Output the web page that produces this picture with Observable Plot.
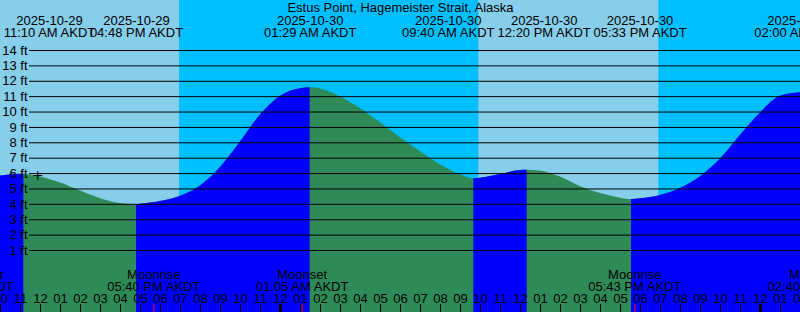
<!DOCTYPE html>
<html><head><meta charset="utf-8">
<script src="https://cdn.jsdelivr.net/npm/d3@7"></script>
<script src="https://cdn.jsdelivr.net/npm/@observablehq/plot@0.6"></script>
<style>
html,body{margin:0;padding:0;background:#fff;}
#chart svg{display:block;}
</style></head><body><div id="chart"></div>
<script>
const title = "Estus Point, Hagemeister Strait, Alaska";

// Hourly tide readings (ft)
const sampleTimes = [
"2025-10-29 10:00","2025-10-29 11:00","2025-10-29 12:00","2025-10-29 13:00","2025-10-29 14:00","2025-10-29 15:00","2025-10-29 16:00","2025-10-29 17:00","2025-10-29 18:00","2025-10-29 19:00","2025-10-29 20:00","2025-10-29 21:00","2025-10-29 22:00","2025-10-29 23:00",
"2025-10-30 00:00","2025-10-30 01:00","2025-10-30 02:00","2025-10-30 03:00","2025-10-30 04:00","2025-10-30 05:00","2025-10-30 06:00","2025-10-30 07:00","2025-10-30 08:00","2025-10-30 09:00","2025-10-30 10:00","2025-10-30 11:00",
"2025-10-30 12:00","2025-10-30 13:00","2025-10-30 14:00","2025-10-30 15:00","2025-10-30 16:00","2025-10-30 17:00","2025-10-30 18:00","2025-10-30 19:00","2025-10-30 20:00","2025-10-30 21:00","2025-10-30 22:00","2025-10-30 23:00",
"2025-10-31 00:00","2025-10-31 01:00"];
const sampleHeights = [
5.84,5.96,5.77,5.38,4.86,4.37,4.06,4.01,4.18,4.53,5.20,6.40,8.05,9.81,
11.03,11.52,11.50,10.98,10.22,9.30,8.33,7.42,6.56,5.93,5.70,5.94,
6.20,6.17,5.77,5.15,4.70,4.40,4.36,4.58,5.03,5.80,6.94,8.49,
9.94,11.02];

// High / low tide events
const tideEventTimes = ["2025-10-29 11:10","2025-10-29 16:48","2025-10-30 01:29","2025-10-30 09:40","2025-10-30 12:20","2025-10-30 17:33","2025-10-31 02:00"];
const tideEventHeights = [5.95,3.99,11.58,5.66,6.22,4.31,11.25];
const tideEventDates = ["2025-10-29","2025-10-29","2025-10-30","2025-10-30","2025-10-30","2025-10-30","2025-10-31"];
const tideEventLabels = ["11:10 AM AKDT","04:48 PM AKDT","01:29 AM AKDT","09:40 AM AKDT","12:20 PM AKDT","05:33 PM AKDT","02:00 AM AKDT"];

// Moon events
const moonEventTimes = ["2025-10-29 08:21","2025-10-29 17:40","2025-10-30 01:05","2025-10-30 17:43","2025-10-31 02:40"];
const moonEventNames = ["First Quarter","Moonrise","Moonset","Moonrise","Moonset"];
const moonEventLabels = ["08:21 AM AKDT","05:40 PM AKDT","01:05 AM AKDT","05:43 PM AKDT","02:40 AM AKDT"];

// Night periods (sunset -> sunrise)
const nightStarts = ["2025-10-29 18:57","2025-10-30 18:55"];
const nightEnds = ["2025-10-30 09:55","2025-10-31 02:00"];

// Current-time mark
const markTime = "2025-10-29 11:52";
const markHeight = 5.87;

// Axis ticks
const heightTicks = [1,2,3,4,5,6,7,8,9,10,11,12,13,14];
const hourTickStart = "2025-10-29 10:00";
const hourTickLabels = ["10","11","12","01","02","03","04","05","06","07","08","09","10","11",
"12","01","02","03","04","05","06","07","08","09","10","11","12","01","02","03","04","05","06","07","08","09","10","11",
"12","01","02"];

const viewStart = "2025-10-29 10:00";
const viewEnd = "2025-10-31 02:00";
const yDomain = [-3.03, 17.25];

// ---- helpers
function ms(s){const [d,t]=s.split(" ");const [Y,M,D]=d.split("-").map(Number);const [h,m]=t.split(":").map(Number);return Date.UTC(Y,M-1,D,h,m);}
const base = ms(viewStart);
const hrs = s => (ms(s)-base)/3600000;
const xDomain = [0, hrs(viewEnd)];
const W = 800, H = 312;
const xs = d3.scaleLinear(xDomain, [0, W]);
const FONT = "'Liberation Sans', Arial, Helvetica, sans-serif";

// tide points
let pts = sampleTimes.map((s,i)=>({t:hrs(s), h:sampleHeights[i]}));
const evs = tideEventTimes.map((s,i)=>({t:hrs(s), h:tideEventHeights[i]}));
pts = pts.filter(p => !evs.some(e => Math.abs(e.t-p.t) < 1e-6)).concat(evs).sort((a,b)=>a.t-b.t);

const bounds = [...new Set([xDomain[0], ...evs.map(e=>e.t), xDomain[1]])].sort((a,b)=>a-b);
const rising = [];
for (let i=0;i<bounds.length-1;i++){
  const seg = pts.filter(p => p.t >= bounds[i]-1e-9 && p.t <= bounds[i+1]+1e-9);
  if (seg.length < 2) continue;
  if (seg[seg.length-1].h > seg[0].h) seg.forEach(p => rising.push({...p, seg:i}));
}

// label layout (cluster overlapping labels around their mean)
const ctx = document.createElement("canvas").getContext("2d");
ctx.font = "13px " + FONT;
function layoutRow(centers, width, gap, clampLeft){
  const sep = width + gap;
  let clusters = centers.map(c => [c]);
  const place = cl => {const m = d3.mean(cl); return cl.map((_,j)=> m + (j-(cl.length-1)/2)*sep);};
  let changed = true;
  while (changed){
    changed = false;
    for (let i=0;i<clusters.length-1;i++){
      const a = place(clusters[i]), b = place(clusters[i+1]);
      if (b[0] - a[a.length-1] < sep){clusters.splice(i,2,clusters[i].concat(clusters[i+1])); changed = true; break;}
    }
  }
  const pos = clusters.flatMap(place);
  if (clampLeft != null){
    const shift = clampLeft - (pos[0] - width/2);
    if (shift > 0) for (let j=0;j<clusters[0].length;j++) pos[j] += shift;
  }
  return pos;
}
const tw = d3.max(tideEventLabels.concat(tideEventDates), s => ctx.measureText(s).width);
const topPos = layoutRow(tideEventTimes.map(s => xs(hrs(s))), tw, 2, 2);
const topLabels = tideEventTimes.map((s,i)=>({lx: xs.invert(topPos[i]), date: tideEventDates[i], time: tideEventLabels[i]}));
const moon = moonEventTimes.map((s,i)=>({t: hrs(s), name: moonEventNames[i], time: moonEventLabels[i]}));
const nights = nightStarts.map((s,i)=>({a: hrs(s), b: hrs(nightEnds[i])}));
const hourTicks = hourTickLabels.map((l,i)=>({t: hrs(hourTickStart)+i, label:l, midnight: new Date(ms(hourTickStart)+i*3600000).getUTCHours()===0}));

const txt = {fontSize: 13, fontFamily: FONT, fill: "black"};

const chart = Plot.plot({
  width: W, height: H, margin: 0,
  x: {domain: xDomain, axis: null},
  y: {domain: yDomain, axis: null},
  style: {background: "#87CEEB", overflow: "hidden", fontFamily: FONT},
  marks: [
    Plot.rect(nights, {x1: "a", x2: "b", fill: "#00BFFF"}),
    Plot.areaY(pts, {x: "t", y1: yDomain[0], y2: "h", curve: "monotone-x", fill: "#2E8B57"}),
    Plot.areaY(rising, {x: "t", y1: yDomain[0], y2: "h", z: "seg", curve: "monotone-x", fill: "#0000FF"}),
    Plot.ruleY(heightTicks, {insetLeft: 29, stroke: "black", strokeWidth: 1}),
    Plot.text(heightTicks, {y: d=>d, text: d=>`${d} ft`, frameAnchor: "left", dx: 27, textAnchor: "end", lineAnchor: "middle", ...txt}),
    Plot.dot([{t: hrs(markTime), h: markHeight}], {x: "t", y: "h", symbol: "plus", r: 3, stroke: "black", strokeWidth: 1}),
    Plot.text([title], {text: d=>d, frameAnchor: "top", dy: 11, lineAnchor: "bottom", ...txt}),
    Plot.text(topLabels, {x: "lx", text: "date", frameAnchor: "top", dy: 24, lineAnchor: "bottom", ...txt}),
    Plot.text(topLabels, {x: "lx", text: "time", frameAnchor: "top", dy: 36, lineAnchor: "bottom", ...txt}),
    Plot.text(moon, {x: "t", text: "name", frameAnchor: "bottom", dy: -33.7, lineAnchor: "bottom", ...txt}),
    Plot.text(moon, {x: "t", text: "time", frameAnchor: "bottom", dy: -22, lineAnchor: "bottom", ...txt}),
    Plot.text(hourTicks, {x: "t", text: "label", frameAnchor: "bottom", dy: -10, lineAnchor: "bottom", ...txt}),
    Plot.ruleX(hourTicks.filter(d=>!d.midnight), {x: "t", insetTop: 304, stroke: "black", strokeWidth: 1}),
    Plot.ruleX(hourTicks.filter(d=>d.midnight), {x: "t", insetTop: 304, stroke: "black", strokeWidth: 3}),
    Plot.ruleX(moon, {x: "t", insetTop: 304, stroke: "#FF0000", strokeWidth: 1})
  ]
});
document.getElementById("chart").appendChild(chart);
</script></body></html>
